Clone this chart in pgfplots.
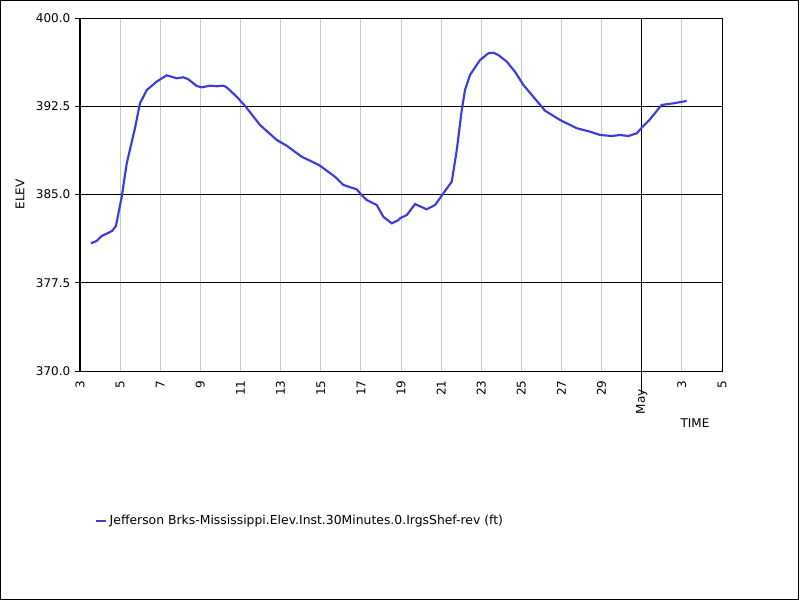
\documentclass[border=0pt]{standalone}
\usepackage{fontspec}
\setmainfont{DejaVu Sans}
\usepackage{pgfplots}
\pgfplotsset{compat=1.18}
\definecolor{serblue}{RGB}{60,60,220}
\definecolor{gridgray}{RGB}{200,200,200}
\begin{document}
\begin{tikzpicture}
\useasboundingbox (-60pt,-171.75pt) rectangle (540pt,278.25pt);
\draw[line width=0.75pt] (-59.625pt,-171.375pt) rectangle (538.875pt,277.875pt);
\begin{axis}[
  at={(0,0)}, anchor=south west, scale only axis,
  width=481.5pt, height=264.75pt,
  xmin=3, xmax=35, ymin=370, ymax=400,
  font=\fontsize{9}{11}\selectfont,
  axis line style={line width=0.75pt},
  /pgf/number format/assume math mode=true,
  ytick={370,377.5,385,392.5,400},
  ytick pos=left,
  yticklabel style={/pgf/number format/.cd, fixed, fixed zerofill, precision=1},
  tick align=outside,
  ytick style={line width=0.75pt, black},
  major tick length=3.75pt,
  xtick={3,5,7,9,11,13,15,17,19,21,23,25,27,29,33,35},
  xticklabels={3,5,7,9,11,13,15,17,19,21,23,25,27,29,3,5},
  xtick style={draw=none},
  xticklabel style={rotate=90, anchor=east},
  extra x ticks={31},
  extra x tick labels={May},
  extra x tick style={xticklabel style={xshift=-6.5pt}},
  xmajorgrids, ymajorgrids,
  x grid style={gridgray, line width=0.75pt},
  y grid style={black, line width=0.75pt},
  ylabel={ELEV},
  ylabel style={at={(axis description cs:0,0.5)}, anchor=center, yshift=45pt},
  xlabel={TIME},
  xlabel style={at={(axis description cs:0,0)}, anchor=center, xshift=461.25pt, yshift=-39pt},
  legend style={draw=none, fill=none, at={(axis description cs:0,0)}, anchor=west, xshift=8pt, yshift=-112.5pt, font=\fontsize{9.3}{11}\selectfont},
  legend image code/.code={\draw[#1] (0pt,0pt) -- (7.5pt,0pt);},
  clip=false,
]
\draw[black, line width=0.75pt] (axis cs:31,400) -- ([yshift=-16.5pt]axis cs:31,370);
\addplot[serblue, line width=1.6pt, mark=none] coordinates {
(3.55,380.85) (3.83,381.05) (4.08,381.47) (4.60,381.90) (4.79,382.32)
(5.08,384.8) (5.33,387.65) (5.74,390.63) (5.99,392.75) (6.33,393.88)
(6.82,394.59) (7.32,395.13) (7.82,394.88) (8.15,394.96) (8.40,394.79)
(8.82,394.22) (9.07,394.11) (9.48,394.25) (9.81,394.20) (10.14,394.25)
(10.31,394.11) (10.81,393.31) (11.23,392.52) (11.97,390.91) (12.81,389.63)
(13.30,389.15) (14.05,388.21) (14.63,387.74) (14.96,387.45) (15.71,386.51)
(16.13,385.81) (16.79,385.44) (17.04,384.96) (17.29,384.53) (17.79,384.11)
(18.12,383.11) (18.54,382.55) (18.87,382.83) (18.95,382.98) (19.29,383.26)
(19.70,384.19) (20.28,383.74) (20.70,384.11) (21.11,385.10) (21.53,386.09)
(21.78,388.78) (22.03,392.18) (22.19,393.88) (22.44,395.16) (22.94,396.43)
(23.35,397.00) (23.60,397.05) (23.85,396.86) (24.27,396.29) (24.68,395.44)
(25.10,394.31) (25.52,393.46) (26.18,392.12) (26.93,391.33) (27.76,390.63)
(28.42,390.34) (28.92,390.06) (29.51,389.97) (29.92,390.06) (30.33,389.97)
(30.75,390.20) (31.00,390.68) (31.41,391.39) (31.99,392.61) (32.58,392.75)
(33.24,392.95)
};
\addlegendentry{Jefferson Brks-Mississippi.Elev.Inst.30Minutes.0.IrgsShef-rev (ft)}
\end{axis}
\end{tikzpicture}
\end{document}
